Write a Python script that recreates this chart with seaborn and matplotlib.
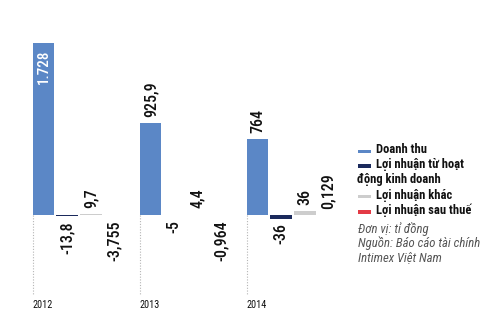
import numpy as np
import pandas as pd
import matplotlib
matplotlib.use("Agg")
import matplotlib.pyplot as plt
import seaborn as sns
from matplotlib.patches import Rectangle
from matplotlib import font_manager as fm

# ---------------- data ----------------
years = ["2012", "2013", "2014"]
series = ["Doanh thu", "Lợi nhuận từ hoạt động kinh doanh",
          "Lợi nhuận khác", "Lợi nhuận sau thuế"]
doanh_thu = [1728, 925.9, 764]
ln_hdkd = [-13.8, -5, -36]
ln_khac = [9.7, 4.4, 36]
ln_sau_thue = [-3.755, -0.964, 0.129]
legend_lines = ["Doanh thu", "Lợi nhuận từ hoạt", "động kinh doanh",
                "Lợi nhuận khác", "Lợi nhuận sau thuế"]
notes = ["Đơn vị: tỉ đồng", "Nguồn: Báo cáo tài chính", "Intimex Việt Nam"]
colors = ["#5b87c6", "#1b2a5c", "#cdcdcd", "#e33a45"]

values = [doanh_thu, ln_hdkd, ln_khac, ln_sau_thue]
rows = []
for s, vals in zip(series, values):
    for y, v in zip(years, vals):
        rows.append({"year": y, "series": s, "value": v})
df = pd.DataFrame(rows)

# ---------------- fonts ----------------
cond = None
for f in fm.fontManager.ttflist:
    if ("Narrow" in f.name or "Condensed" in f.name) or \
            f.stretch in ("condensed", "semi-condensed", "extra-condensed",
                          "ultra-condensed"):
        cond = (f.name, f.stretch)
        if "Roboto" in f.name or "Liberation" in f.name:
            break
if cond is not None:
    FAM = [cond[0], "DejaVu Sans"]
    STRETCH = cond[1]
    K = 1.15
else:
    FAM = ["Roboto", "DejaVu Sans"]
    STRETCH = "normal"
    K = 1.0
plt.rcParams["font.family"] = FAM


def fmt(v):
    if abs(v) >= 1000:
        return f"{v:,.0f}".replace(",", ".")
    return str(v).replace(".", ",")


# ---------------- figure ----------------
W, H = 500, 330
fig = plt.figure(figsize=(W / 100, H / 100), dpi=100)
ax = fig.add_axes([0, 0, 1, 1])

sns.barplot(data=df, x="year", y="value", hue="series", order=years,
            hue_order=series, palette=dict(zip(series, colors)),
            saturation=1, width=0.88, gap=0.085, dodge=True, legend=False,
            errorbar=None, linewidth=0, ax=ax)

unit = 107.0
c0 = 79.0
ax.set_xlim(-c0 / unit, (W - c0) / unit)
scale = 1728 / 172.0
ax.set_ylim(-(H - 215) * scale, 215 * scale)
ax.axis("off")

VS = 10.0 * K
# value labels
for cont, vals in zip(ax.containers, values):
    for bar, v in zip(cont, vals):
        x = bar.get_x() + bar.get_width() / 2
        h = bar.get_height()
        if v > 1500:
            ax.annotate(fmt(v), xy=(x, h), xytext=(0, -5),
                        textcoords="offset points", rotation=90,
                        ha="center", va="top", color="white",
                        fontsize=VS * 0.95, fontweight="medium",
                        fontstretch=STRETCH)
        elif v >= 0:
            ax.annotate(fmt(v), xy=(x, h), xytext=(0, 4.5),
                        textcoords="offset points", rotation=90,
                        ha="center", va="bottom", color="#111111",
                        fontsize=VS, fontweight="medium",
                        fontstretch=STRETCH)
        else:
            ax.annotate(fmt(v), xy=(x, h), xytext=(0, -3.5),
                        textcoords="offset points", rotation=90,
                        ha="center", va="top", color="#111111",
                        fontsize=VS, fontweight="medium",
                        fontstretch=STRETCH)

# group separators and year labels
first = ax.containers[0]
for bar, yr in zip(first, years):
    xl = bar.get_x()
    ax.plot([xl, xl], [0, -(295 - 215) * scale], color="#b5b5b5",
            lw=0.8, ls=(0, (1, 1.5)))
    ax.text(xl, -(305 - 215) * scale, yr, ha="left", va="center",
            fontsize=6.4 * K, color="#111111", fontstretch=STRETCH)

# ---------------- legend ----------------
def fx(px):
    return px / W


def fy(py):
    return 1 - py / H


LS = 7.8 * K
baselines = [153.5, 168, 183, 198.5, 214]
marker_for = [0, 1, None, 2, 3]
for txt, by, mi in zip(legend_lines, baselines, marker_for):
    if mi is None:
        fig.text(fx(357), fy(by), txt, ha="left", va="baseline",
                 fontsize=LS, fontweight="bold", color="#111111",
                 fontstretch=STRETCH)
    else:
        fig.add_artist(Rectangle((fx(358), fy(by - 0.5)), 12.5 / W, 3.5 / H,
                                 transform=fig.transFigure,
                                 color=colors[mi], lw=0))
        fig.text(fx(375.5), fy(by), txt, ha="left", va="baseline",
                 fontsize=LS, fontweight="bold", color="#111111",
                 fontstretch=STRETCH)

for txt, by in zip(notes, [233, 247.5, 261]):
    fig.text(fx(357.5), fy(by), txt, ha="left", va="baseline",
             fontsize=8.0 * K, style="italic", color="#555555",
             fontstretch=STRETCH)

fig.savefig("out.png", dpi=100)
